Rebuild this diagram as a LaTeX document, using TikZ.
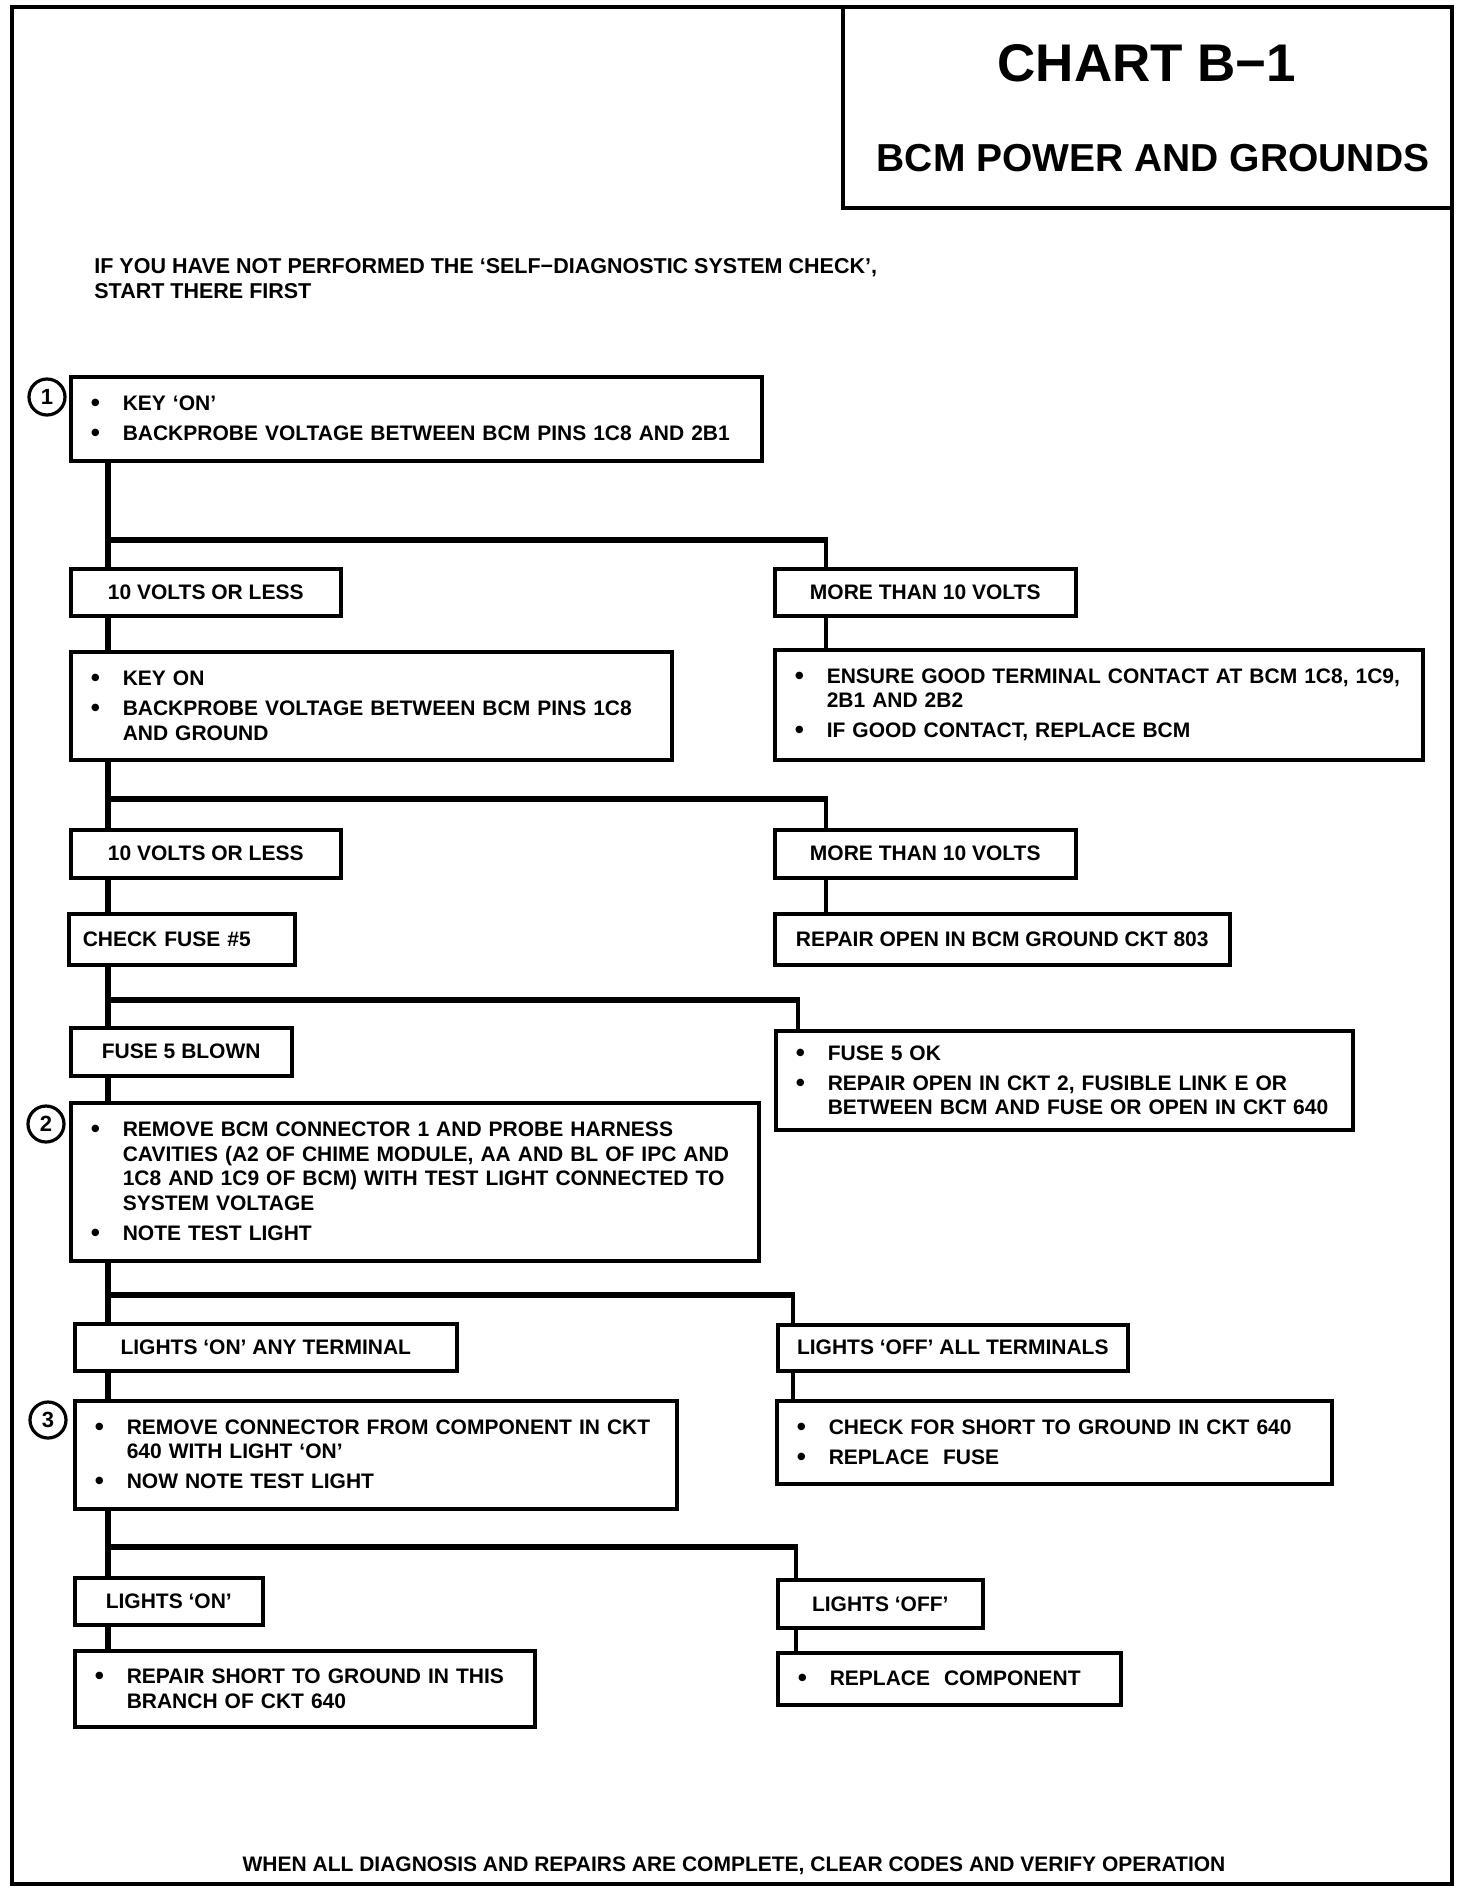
\documentclass[tikz,border=0pt]{standalone}
\usepackage{fontspec}
\setmainfont{Liberation Sans}
\usepackage{tikz}
\tikzset{action/.style = {draw, line width=1.75pt, anchor=north west, align=left,
    inner xsep=10pt, inner ysep=0pt, font=\bodyfont}}
\tikzset{result/.style = {draw, line width=1.75pt, anchor=north west,
    inner sep=0pt, font=\bodyfont}}
\tikzset{stepnum/.style = {shape=circle, draw, line width=1.6pt, minimum size=18pt,
    inner sep=0pt, font=\bfseries\fontsize{11}{11}\selectfont}}
\tikzset{trunk/.style = {line width=2.75pt}}
\tikzset{bar/.style = {line width=3.25pt}}
\tikzset{drop/.style = {line width=2.25pt}}
\newcommand{\bodyfont}{\bfseries\fontsize{10.5}{12.25}\selectfont}
\newcommand{\bdot}{\raisebox{-0.6pt}{\fontsize{13}{13}\selectfont\textbullet}}
\newcommand{\bitem}[1]{\makebox[16pt][l]{\bdot}\mbox{#1}}
\newcommand{\bcont}[1]{\hspace*{16pt}\mbox{#1}}

\begin{document}
\begin{tikzpicture}[x=0.5pt, y=-0.5pt]
	\useasboundingbox (0,0) rectangle (1472,1896);
	% frame and title
	\draw[line width=2pt] (12,7) rectangle (1452,1884);
	\draw[line width=2pt] (843,7) rectangle (1452,208);
	\node[font=\bfseries\fontsize{26.5}{30}\selectfont] (chart) at (1147,63) {CHART B−1};
	\node[font=\bfseries\fontsize{19.5}{22}\selectfont] (title) at (1153,158) {BCM POWER AND GROUNDS};
	\node[anchor=west, align=left, inner sep=0pt, font=\bfseries\fontsize{10.75}{12.5}\selectfont] (intro) at (94,278.5)
		{IF YOU HAVE NOT PERFORMED THE ‘SELF−DIAGNOSTIC SYSTEM CHECK’,\\START THERE FIRST};
	\node[font=\bodyfont] (foot) at (734,1866)
		{WHEN ALL DIAGNOSIS AND REPAIRS ARE COMPLETE, CLEAR CODES AND VERIFY OPERATION};

	% steps
	\node[stepnum] (n1) at (47,397) {1};
	\node[stepnum] (n2) at (46,1124) {2};
	\node[stepnum] (n3) at (48,1420) {3};

	% vertices
	\node[action, text width=325.5pt, minimum height=42pt] (k1) at (69,375)
		{\bitem{KEY ‘ON’}\\[2.75pt]\bitem{BACKPROBE VOLTAGE BETWEEN BCM PINS 1C8 AND 2B1}};
	\node[result, minimum width=135pt, minimum height=23.5pt] (v1l) at (69,567) {10 VOLTS OR LESS};
	\node[result, minimum width=150.5pt, minimum height=23.5pt] (v1r) at (773,567) {MORE THAN 10 VOLTS};
	\node[action, text width=280.5pt, minimum height=54pt] (k2) at (69,650)
		{\bitem{KEY ON}\\[2.75pt]\bitem{BACKPROBE VOLTAGE BETWEEN BCM PINS 1C8}\\\bcont{AND GROUND}};
	\node[action, text width=304pt, minimum height=55pt] (ens) at (773,648)
		{\bitem{ENSURE GOOD TERMINAL CONTACT AT BCM 1C8, 1C9,}\\\bcont{2B1 AND 2B2}\\[2.75pt]\bitem{IF GOOD CONTACT, REPLACE BCM}};
	\node[result, minimum width=135pt, minimum height=24pt] (v2l) at (69,828) {10 VOLTS OR LESS};
	\node[result, minimum width=150.5pt, minimum height=24pt] (v2r) at (773,828) {MORE THAN 10 VOLTS};
	\node[result, align=left, inner xsep=7pt, text width=99pt, minimum height=25.5pt] (fuse) at (67,912) {CHECK FUSE \#5};
	\node[result, minimum width=227.5pt, minimum height=25.5pt] (r803) at (773,912) {REPAIR OPEN IN BCM GROUND CKT 803};
	\node[result, minimum width=110.5pt, minimum height=24pt] (blown) at (69,1026) {FUSE 5 BLOWN};
	\node[action, text width=268.5pt, minimum height=49.5pt] (fok) at (774,1029)
		{\bitem{FUSE 5 OK}\\[2.75pt]\bitem{REPAIR OPEN IN CKT 2, FUSIBLE LINK E OR}\\\bcont{BETWEEN BCM AND FUSE OR OPEN IN CKT 640}};
	\node[action, text width=324pt, minimum height=79pt] (k3) at (69,1101)
		{\bitem{REMOVE BCM CONNECTOR 1 AND PROBE HARNESS}\\\bcont{CAVITIES (A2 OF CHIME MODULE, AA AND BL OF IPC AND}\\\bcont{1C8 AND 1C9 OF BCM) WITH TEST LIGHT CONNECTED TO}\\\bcont{SYSTEM VOLTAGE}\\[2.75pt]\bitem{NOTE TEST LIGHT}};
	\node[result, minimum width=191pt, minimum height=23.5pt] (onany) at (73,1322) {LIGHTS ‘ON’ ANY TERMINAL};
	\node[result, minimum width=175pt, minimum height=23pt] (offall) at (776,1323) {LIGHTS ‘OFF’ ALL TERMINALS};
	\node[action, text width=281pt, minimum height=54pt] (k4) at (73,1399)
		{\bitem{REMOVE CONNECTOR FROM COMPONENT IN CKT}\\\bcont{640 WITH LIGHT ‘ON’}\\[2.75pt]\bitem{NOW NOTE TEST LIGHT}};
	\node[action, text width=257.5pt, minimum height=41.5pt] (short) at (775,1399)
		{\bitem{CHECK FOR SHORT TO GROUND IN CKT 640}\\[2.75pt]\bitem{REPLACE\ \ FUSE}};
	\node[result, minimum width=94pt, minimum height=23.5pt] (lon) at (73,1576) {LIGHTS ‘ON’};
	\node[result, minimum width=102.5pt, minimum height=24pt] (loff) at (776,1578) {LIGHTS ‘OFF’};
	\node[action, text width=210pt, minimum height=38pt] (rsg) at (73,1649)
		{\bitem{REPAIR SHORT TO GROUND IN THIS}\\\bcont{BRANCH OF CKT 640}};
	\node[action, text width=151.5pt, minimum height=26pt] (rcomp) at (776,1651)
		{\bitem{REPLACE\ \ COMPONENT}};

	% branch points
	\coordinate (t) at (108,0);
	\coordinate (b1) at (108,540);  \coordinate (r1) at (826,540);
	\coordinate (b2) at (108,799);  \coordinate (r2) at (826,799);
	\coordinate (b3) at (108,1000); \coordinate (r3) at (798,1000);
	\coordinate (b4) at (108,1295); \coordinate (r4) at (793,1295);
	\coordinate (b5) at (108,1547); \coordinate (r5) at (796,1547);

	% edges
	\draw[trunk] (k1.south -| t) -- (v1l.north -| t);
	\draw[bar] (b1) -- (r1);
	\draw[drop] ([yshift=1.6pt]r1) -- (v1r.north -| r1);
	\draw[trunk] (v1l.south -| t) -- (k2.north -| t);
	\draw[drop] (v1r.south -| r1) -- (ens.north -| r1);

	\draw[trunk] (k2.south -| t) -- (v2l.north -| t);
	\draw[bar] (b2) -- (r2);
	\draw[drop] ([yshift=1.6pt]r2) -- (v2r.north -| r2);
	\draw[trunk] (v2l.south -| t) -- (fuse.north -| t);
	\draw[drop] (v2r.south -| r2) -- (r803.north -| r2);

	\draw[trunk] (fuse.south -| t) -- (blown.north -| t);
	\draw[bar] (b3) -- (r3);
	\draw[drop] ([yshift=1.6pt]r3) -- (fok.north -| r3);
	\draw[trunk] (blown.south -| t) -- (k3.north -| t);

	\draw[trunk] (k3.south -| t) -- (onany.north -| t);
	\draw[bar] (b4) -- (r4);
	\draw[drop] ([yshift=1.6pt]r4) -- (offall.north -| r4);
	\draw[trunk] (onany.south -| t) -- (k4.north -| t);
	\draw[drop] (offall.south -| r4) -- (short.north -| r4);

	\draw[trunk] (k4.south -| t) -- (lon.north -| t);
	\draw[bar] (b5) -- (r5);
	\draw[drop] ([yshift=1.6pt]r5) -- (loff.north -| r5);
	\draw[trunk] (lon.south -| t) -- (rsg.north -| t);
	\draw[drop] (loff.south -| r5) -- (rcomp.north -| r5);
\end{tikzpicture}
\end{document}
